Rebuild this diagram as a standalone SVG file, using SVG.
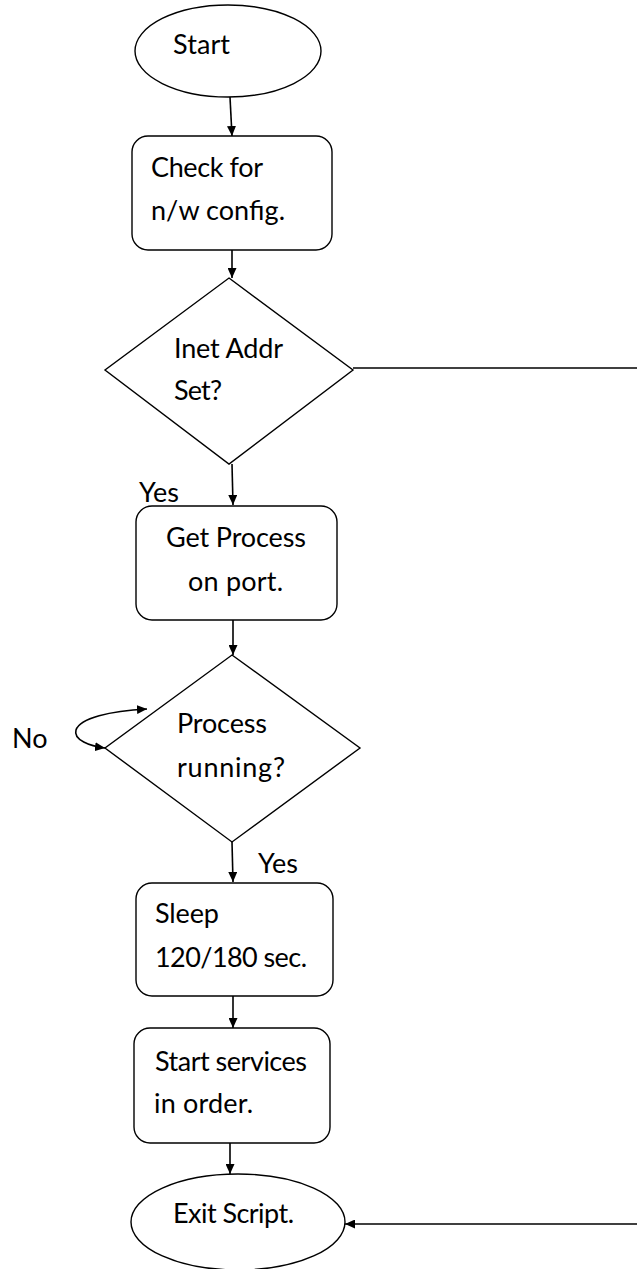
<svg xmlns="http://www.w3.org/2000/svg" width="637" height="1269" viewBox="0 0 637 1269">
  <style>
    .shape { fill: #ffffff; stroke: #000000; stroke-width: 1.4; }
    .wire { fill: none; stroke: #000000; stroke-width: 1.6; }
    .lbl { font-family: Lato, "Open Sans", "Liberation Sans", sans-serif; font-size: 27px; fill: #000000; }
  </style>
  <defs>
    <marker id="arrow" viewBox="0 0 10 10" refX="10" refY="5" markerWidth="10" markerHeight="9" markerUnits="userSpaceOnUse" orient="auto-start-reverse" preserveAspectRatio="none">
      <path d="M0,0 L10,5 L0,10 z" fill="#000000"/>
    </marker>
  </defs>

  <!-- connectors -->
  <g id="connectors">
    <line class="wire" x1="230" y1="97" x2="232" y2="136" marker-end="url(#arrow)"/>
    <line class="wire" x1="232" y1="250" x2="232" y2="278" marker-end="url(#arrow)"/>
    <line class="wire" x1="353" y1="368" x2="637" y2="368"/>
    <line class="wire" x1="232" y1="464" x2="233" y2="505" marker-end="url(#arrow)"/>
    <line class="wire" x1="233" y1="620" x2="233" y2="655" marker-end="url(#arrow)"/>
    <path class="wire" d="M147,709 C110,711 80,718 76,730 C73,740 90,746 105,748" marker-start="url(#arrow)" marker-end="url(#arrow)"/>
    <line class="wire" x1="232" y1="842" x2="233" y2="882" marker-end="url(#arrow)"/>
    <line class="wire" x1="233" y1="996" x2="233" y2="1028" marker-end="url(#arrow)"/>
    <line class="wire" x1="230" y1="1143" x2="230" y2="1174" marker-end="url(#arrow)"/>
    <line class="wire" x1="637" y1="1224" x2="345" y2="1224" marker-end="url(#arrow)"/>
  </g>

  <g id="start">
    <ellipse class="shape" cx="228" cy="51" rx="93" ry="46"/>
    <text class="lbl" x="173" y="54" textLength="57">Start</text>
  </g>

  <g id="check-config">
    <rect class="shape" x="132" y="136" width="200" height="114" rx="16"/>
    <text class="lbl" x="151" y="177" textLength="112">Check for</text>
    <text class="lbl" x="151" y="220" textLength="134">n/w config.</text>
  </g>

  <g id="inet-addr">
    <polygon class="shape" points="229,278 353,370 229,464 105,370"/>
    <text class="lbl" x="174" y="358" textLength="109">Inet Addr</text>
    <text class="lbl" x="174" y="400" textLength="48">Set?</text>
  </g>

  <text class="lbl" x="139" y="502">Yes</text>

  <g id="get-process">
    <rect class="shape" x="136" y="506" width="201" height="114" rx="16"/>
    <text class="lbl" x="166" y="547" textLength="140">Get Process</text>
    <text class="lbl" x="188" y="591" textLength="95">on port.</text>
  </g>

  <g id="process-running">
    <polygon class="shape" points="232,655 360,748 232,842 105,748"/>
    <text class="lbl" x="177" y="733" textLength="90">Process</text>
    <text class="lbl" x="177" y="777" textLength="108">running?</text>
  </g>

  <text class="lbl" x="12" y="748">No</text>
  <text class="lbl" x="258" y="873">Yes</text>

  <g id="sleep">
    <rect class="shape" x="136" y="883" width="197" height="113" rx="16"/>
    <text class="lbl" x="155" y="923" textLength="64">Sleep</text>
    <text class="lbl" x="155" y="967" textLength="152">120/180 sec.</text>
  </g>

  <g id="start-services">
    <rect class="shape" x="134" y="1028" width="196" height="115" rx="16"/>
    <text class="lbl" x="155" y="1071" textLength="152">Start services</text>
    <text class="lbl" x="154" y="1113" textLength="99">in order.</text>
  </g>

  <g id="exit">
    <ellipse class="shape" cx="238" cy="1222" rx="107" ry="48"/>
    <text class="lbl" x="173" y="1223" textLength="121">Exit Script.</text>
  </g>
</svg>
